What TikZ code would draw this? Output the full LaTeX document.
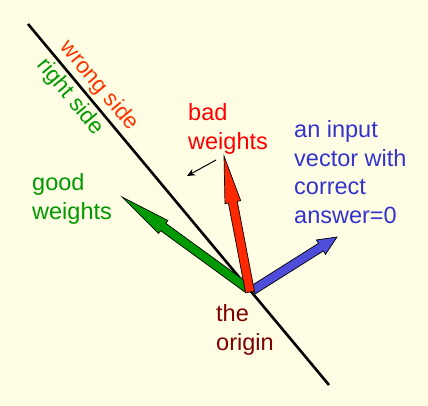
\documentclass[tikz,border=0pt]{standalone}
\usepackage{fontspec}
\setmainfont{Liberation Sans}
\usetikzlibrary{calc,arrows.meta}
\definecolor{bgc}{RGB}{255,254,229}
\definecolor{wrongc}{RGB}{255,51,0}
\definecolor{goodc}{RGB}{0,153,0}
\definecolor{badc}{RGB}{255,0,0}
\definecolor{arrred}{RGB}{255,40,0}
\definecolor{bluec}{RGB}{51,51,204}
\definecolor{arrblue}{RGB}{77,77,217}
\definecolor{originc}{RGB}{128,0,0}
\newcommand{\blkarrow}[7]{%
  \coordinate (#1h) at ($(#3)!#6!(#2)$);
  \filldraw[fill=#7, draw=black, line width=0.7pt, line join=miter]
    ($(#2)!#4!90:(#3)$) -- ($(#1h)!#4!90:(#3)$) -- ($(#1h)!#5!90:(#3)$) -- (#3)
    -- ($(#1h)!#5!-90:(#3)$) -- ($(#1h)!#4!-90:(#3)$) -- ($(#2)!#4!-90:(#3)$) -- cycle;}
\tikzset{
  lbl/.style={font=\fontsize{23.5}{28.5}\selectfont, align=left, anchor=base west, inner sep=0pt},
  sidelbl/.style={font=\fontsize{22.5}{27}\selectfont, rotate=-50.2, inner sep=0pt}
}
\begin{document}
\begin{tikzpicture}[x=1pt,y=-1pt]
\fill[bgc] (0,0) rectangle (428,406);
\useasboundingbox (0,0) rectangle (428,406);
% coordinates
\coordinate (L1) at (28,24);
\coordinate (L2) at (329,385);
\coordinate (Og) at (247,288);
\coordinate (Or) at (250,292);
\coordinate (Ob) at (253,290);
\coordinate (G) at (122,197);
\coordinate (R) at (224,156);
\coordinate (B) at (337,237);
\coordinate (sa) at (216,160);
\coordinate (sb) at (187,176);
% separating line
\draw[line width=2.6pt] (L1) -- (L2);
% vectors
\blkarrow{g}{Og}{G}{4.5pt}{8pt}{51pt}{goodc}
\blkarrow{b}{Ob}{B}{4.5pt}{8.5pt}{19pt}{arrblue}
\blkarrow{r}{Or}{R}{4.5pt}{8pt}{47pt}{arrred}
% small arrow
\draw[line width=1pt, -{Stealth[length=8pt,width=7pt]}] (sa) -- (sb);
% labels
\node[sidelbl, text=wrongc] (wrong) at (99,86) {wrong side};
\node[sidelbl, text=goodc] (right) at (70,97) {right side};
\node[lbl, text=badc] (bad) at (188,149.5) {bad\\weights};
\node[lbl, text=goodc] (good) at (32,219) {good\\weights};
\node[lbl, text=bluec] (inp) at (294,223) {an input\\vector with\\correct\\answer=0};
\node[lbl, text=originc] (orig) at (216,350) {the\\origin};
\end{tikzpicture}
\end{document}
